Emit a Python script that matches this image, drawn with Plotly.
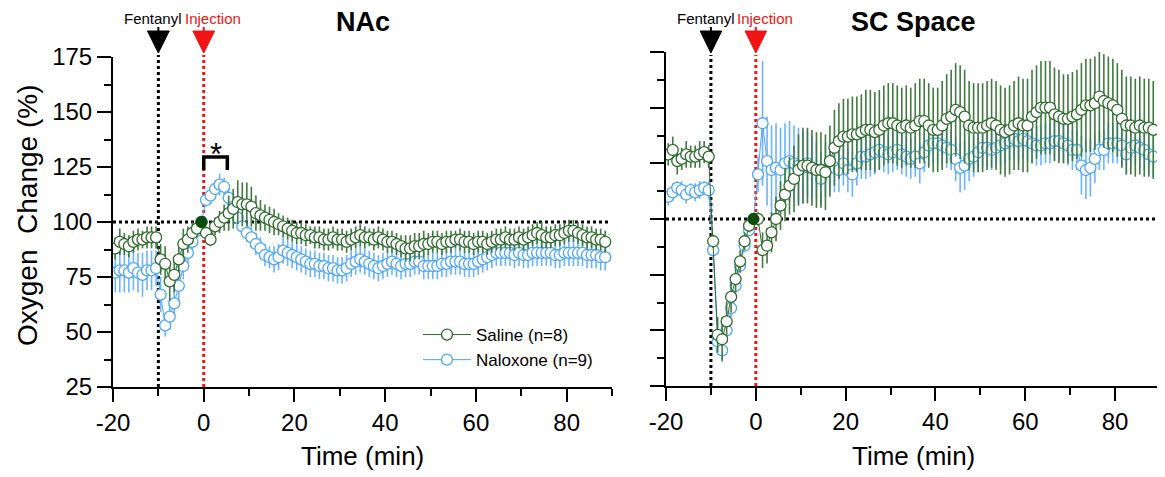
import plotly.graph_objects as go

W, H = 1165, 477
PAGE_PAD = 8  # browser body margin around the plot div

# one sample per minute, centred on the half minute
minutes = [m + 0.5 for m in range(-20, 89)]
FENTANYL_T = -10
INJECTION_T = 0
SIG_WINDOW = [0, 5.2]
x_ticks = [-20, 0, 20, 40, 60, 80]
x_ticktext = ['-20', '0', '20', '40', '60', '80']
y_ticks = [25, 50, 75, 100, 125, 150, 175]

# ---- NAc ----
nac_saline = [88, 91, 90, 89, 91, 92, 92, 93, 93, 93,
              83, 81, 73, 76, 83, 90, 92, 95, 97, 100,
              95, 92, 98, 100, 102, 104, 106, 109, 108, 108,
              107, 104, 103, 102, 101, 100, 99, 98, 97, 96,
              95, 95, 94, 94, 93, 93, 92, 92, 93, 92,
              92, 91, 92, 93, 94, 93, 93, 92, 93, 92,
              91, 91, 90, 89, 88, 88, 89, 89, 90, 90,
              91, 91, 90, 91, 91, 92, 92, 91, 91, 90,
              91, 91, 90, 91, 92, 92, 93, 92, 92, 93,
              92, 93, 94, 95, 94, 93, 93, 94, 94, 95,
              96, 96, 95, 94, 93, 93, 92, 92, 91]
nac_saline_sem = [5, 6, 5, 5, 5, 5, 4, 5, 5, 5,
                  7, 8, 9, 8, 8, 7, 6, 5, 4, 0,
                  3, 3, 4, 5, 6, 8, 9, 10, 10, 10,
                  9, 8, 7, 6, 6, 6, 5, 5, 5, 5,
                  5, 5, 5, 4, 5, 5, 5, 5, 5, 5,
                  5, 5, 5, 5, 5, 5, 4, 5, 5, 5,
                  5, 5, 5, 5, 6, 6, 6, 6, 6, 5,
                  5, 5, 5, 5, 5, 4, 5, 5, 5, 5,
                  5, 5, 5, 5, 5, 5, 5, 5, 5, 5,
                  5, 5, 5, 5, 6, 5, 5, 5, 5, 5,
                  5, 5, 5, 5, 5, 5, 5, 5, 5]
nac_naloxone = [77, 78, 78, 77, 79, 77, 76, 78, 78, 79,
                67, 53, 57, 63, 71, 80, 86, 91, 96, 100,
                110, 112, 115, 117, 116, 111, 107, 102, 98, 95,
                93, 90, 88, 85, 84, 83, 84, 87, 86, 85,
                84, 83, 82, 81, 81, 80, 80, 79, 79, 78,
                78, 79, 81, 82, 83, 82, 81, 80, 79, 80,
                81, 82, 81, 80, 81, 81, 82, 82, 80, 80,
                80, 80, 81, 81, 82, 82, 82, 81, 81, 81,
                82, 83, 84, 85, 86, 86, 86, 86, 85, 86,
                85, 85, 86, 86, 86, 86, 86, 85, 85, 86,
                86, 86, 86, 86, 85, 85, 85, 84, 84]
nac_naloxone_sem = [9, 10, 10, 9, 10, 9, 10, 9, 9, 8,
                    8, 5, 6, 7, 7, 6, 5, 4, 3, 0,
                    3, 4, 4, 5, 4, 4, 4, 4, 4, 4,
                    5, 5, 5, 5, 5, 6, 6, 6, 6, 6,
                    6, 6, 6, 6, 6, 6, 6, 6, 6, 6,
                    6, 6, 6, 6, 6, 6, 6, 6, 6, 6,
                    6, 6, 6, 6, 6, 6, 6, 6, 6, 6,
                    6, 6, 6, 6, 6, 6, 6, 6, 6, 6,
                    6, 6, 6, 6, 6, 6, 6, 6, 6, 6,
                    6, 6, 6, 6, 6, 6, 6, 6, 6, 6,
                    6, 6, 6, 6, 6, 6, 6, 6, 6]

# ---- SC Space ----
sc_saline = [129, 131, 126, 127, 129, 128, 128, 129, 130, 128,
             90, 48, 46, 54, 65, 73, 81, 90, 97, 100,
             100, 86, 88, 94, 100, 106, 111, 115, 118, 122,
             124, 124, 123, 122, 122, 121, 126, 132, 135, 137,
             137, 138, 138, 139, 140, 140, 139, 140, 142, 143,
             143, 142, 141, 142, 141, 142, 144, 144, 142, 140,
             140, 142, 145, 146, 149, 148, 146, 142, 141, 141,
             141, 142, 143, 142, 140, 139, 140, 142, 143, 142,
             142, 146, 148, 150, 150, 150, 147, 146, 145, 145,
             146, 147, 149, 151, 151, 152, 155, 153, 152, 151,
             149, 145, 142, 142, 141, 142, 141, 141, 140]
sc_saline_sem = [5, 6, 6, 5, 6, 5, 5, 6, 5, 5,
                 3, 8, 10, 9, 7, 6, 5, 4, 3, 0,
                 3, 8, 8, 9, 10, 11, 12, 13, 15, 16,
                 17, 17, 17, 17, 17, 17, 16, 17, 17, 17,
                 17, 17, 17, 17, 18, 18, 18, 18, 18, 18,
                 18, 18, 18, 18, 18, 19, 19, 19, 19, 19,
                 19, 20, 20, 21, 21, 21, 21, 20, 20, 20,
                 20, 20, 20, 20, 20, 20, 20, 20, 21, 21,
                 21, 21, 21, 21, 21, 21, 21, 21, 20, 20,
                 20, 20, 21, 21, 21, 21, 21, 21, 21, 21,
                 21, 22, 22, 22, 22, 22, 22, 22, 22]
sc_naloxone = [110, 112, 114, 113, 111, 113, 112, 113, 114, 113,
               86, 45, 41, 50, 60, 70, 79, 88, 95, 100,
               120, 143, 126, 122, 123, 122, 125, 126, 125, 124,
               123, 125, 123, 122, 118, 122, 124, 123, 122, 125,
               122, 120, 125, 128, 128, 129, 130, 131, 130, 129,
               130, 131, 129, 128, 127, 128, 125, 130, 133, 134,
               134, 133, 132, 131, 127, 123, 124, 127, 128, 130,
               132, 132, 131, 132, 133, 134, 135, 136, 135, 136,
               135, 134, 133, 133, 134, 134, 135, 135, 134, 133,
               131, 131, 124, 122, 123, 127, 131, 131, 134, 134,
               134, 133, 129, 132, 133, 132, 131, 129, 128]
sc_naloxone_sem = [4, 4, 3, 4, 4, 3, 4, 4, 3, 4,
                   3, 5, 4, 4, 4, 4, 3, 3, 2, 0,
                   8, 28, 20, 20, 20, 19, 18, 18, 17, 17,
                   16, 15, 14, 13, 12, 12, 11, 11, 10, 10,
                   10, 10, 10, 10, 10, 10, 10, 9, 9, 9,
                   9, 9, 9, 9, 9, 9, 9, 9, 9, 9,
                   9, 9, 9, 9, 10, 11, 11, 10, 9, 9,
                   9, 9, 9, 9, 9, 9, 9, 9, 9, 9,
                   9, 9, 9, 9, 9, 9, 9, 9, 9, 9,
                   9, 9, 13, 13, 13, 11, 9, 9, 9, 9,
                   9, 9, 9, 9, 9, 9, 9, 9, 9]

GREEN = '#2f6a2f'
GREEN_BAR = '#3f7a3f'
BLUE = '#4ea6f6'
BLUE_BAR = '#6ab4fb'
FILLED = '#0b4c0b'
RED = '#f01414'
FONT = 'Liberation Sans, Arial, sans-serif'


# screen pixel -> paper fraction
def px_x(p):
    return (p - PAGE_PAD) / W


def px_y(p):
    return 1 - (p - PAGE_PAD) / H


panels = [
    dict(xa='x', ya='y', title='NAc', sal=nac_saline, sal_e=nac_saline_sem,
         nal=nac_naloxone, nal_e=nac_naloxone_sem, legend=True,
         xpx=(113, 612), ypx=(57, 387)),
    dict(xa='x2', ya='y2', title='SC Space', sal=sc_saline, sal_e=sc_saline_sem,
         nal=sc_naloxone, nal_e=sc_naloxone_sem, legend=False,
         xpx=(666, 1160), ypx=(52, 386)),
]

fig = go.Figure()
shapes = []
annotations = []

for p in panels:
    fig.add_trace(go.Scatter(
        x=minutes, y=p['nal'], xaxis=p['xa'], yaxis=p['ya'],
        mode='lines+markers', name='Naloxone (n=9)', showlegend=p['legend'],
        legendrank=2,
        line=dict(color=BLUE, width=1),
        marker=dict(symbol='circle', size=11, color='white',
                    line=dict(color=BLUE, width=1.3)),
        error_y=dict(type='data', array=p['nal_e'], color=BLUE_BAR,
                     thickness=1.6, width=0),
    ))
    fig.add_trace(go.Scatter(
        x=minutes, y=p['sal'], xaxis=p['xa'], yaxis=p['ya'],
        mode='lines+markers', name='Saline (n=8)', showlegend=p['legend'],
        legendrank=1,
        line=dict(color=GREEN, width=1),
        marker=dict(symbol='circle', size=11, color='white',
                    line=dict(color=GREEN, width=1.3)),
        error_y=dict(type='data', array=p['sal_e'], color=GREEN_BAR,
                     thickness=1.6, width=0),
    ))
    # normalisation point (last sample before injection)
    i0 = minutes.index(INJECTION_T - 0.5)
    fig.add_trace(go.Scatter(
        x=[minutes[i0]], y=[p['sal'][i0]], xaxis=p['xa'], yaxis=p['ya'],
        mode='markers', showlegend=False,
        marker=dict(symbol='circle', size=11, color=FILLED,
                    line=dict(color=FILLED, width=1)),
    ))

    xr, yr = p['xa'], p['ya']
    top, bottom = p['ypx']
    xmid = px_x((p['xpx'][0] + p['xpx'][1]) / 2)
    # baseline
    shapes.append(dict(type='line', xref=xr, yref=yr, x0=-20, x1=89.5, y0=100, y1=100,
                       line=dict(color='black', width=3, dash='dot'), layer='below'))
    for t, col in [(FENTANYL_T, 'black'), (INJECTION_T, RED)]:
        shapes.append(dict(type='line', xref=xr, yref='paper', x0=t, x1=t,
                           y0=px_y(bottom), y1=px_y(55),
                           line=dict(color=col, width=3, dash='dot'), layer='below'))
        shapes.append(dict(type='path', xref=xr, yref='paper',
                           path='M %f,%f L %f,%f L %f,%f Z' % (
                               t - 2.4, px_y(31), t + 2.4, px_y(31), t, px_y(53)),
                           fillcolor=col, line=dict(color=col, width=1)))
        shapes.append(dict(type='line', xref=xr, yref='paper', x0=t, x1=t,
                           y0=px_y(27), y1=px_y(32), line=dict(color=col, width=2)))
    annotations += [
        dict(text='Fentanyl', x=FENTANYL_T - 1.1, y=px_y(19), xref=xr, yref='paper',
             xanchor='center', yanchor='middle', showarrow=False, borderpad=0,
             font=dict(size=15, color='black')),
        dict(text='Injection', x=INJECTION_T + 2.1, y=px_y(19), xref=xr, yref='paper',
             xanchor='center', yanchor='middle', showarrow=False, borderpad=0,
             font=dict(size=15, color=RED)),
        dict(text='<b>%s</b>' % p['title'], x=xmid, y=px_y(22), xref='paper', yref='paper',
             xanchor='center', yanchor='middle', showarrow=False, borderpad=0,
             font=dict(size=27, color='black')),
        dict(text='Time (min)', x=xmid, y=px_y(456), xref='paper', yref='paper',
             xanchor='center', yanchor='middle', showarrow=False,
             font=dict(size=26, color='black')),
    ]

# significance bracket over the Naloxone peak
shapes.append(dict(type='path', xref='x', yref='y',
                   path='M %f,123.6 L %f,129.6 L %f,129.6 L %f,123.6' % (
                       SIG_WINDOW[0], SIG_WINDOW[0], SIG_WINDOW[1], SIG_WINDOW[1]),
                   line=dict(color='black', width=3.5)))
annotations.append(dict(text='*', x=sum(SIG_WINDOW) / 2, y=px_y(154), xref='x', yref='paper',
                        xanchor='center', yanchor='middle', showarrow=False,
                        font=dict(size=31, color='black')))
annotations.append(dict(text='Oxygen\u00a0 Change (%)', x=px_x(27), y=px_y(216),
                        xref='paper', yref='paper', textangle=-90, showarrow=False,
                        xanchor='center', yanchor='middle',
                        font=dict(size=28, color='black')))

axis_common = dict(showgrid=False, zeroline=False, showline=True, linecolor='black',
                   linewidth=2, ticks='outside', tickcolor='black', tickwidth=2,
                   automargin=False, tickfont=dict(size=24, color='black'))
x_minor = dict(ticks='outside', tick0=-20, dtick=10, ticklen=7, tickwidth=2, tickcolor='black')
y_minor = dict(ticks='outside', tick0=25, dtick=12.5, ticklen=7, tickwidth=2, tickcolor='black')

L1, R1 = panels[0]['xpx']
L2, R2 = panels[1]['xpx']
T1, B1 = panels[0]['ypx']
T2, B2 = panels[1]['ypx']

fig.update_layout(
    width=W, height=H,
    margin=dict(l=0, r=0, t=0, b=0, autoexpand=False),
    plot_bgcolor='white', paper_bgcolor='white',
    font=dict(family=FONT, color='black'),
    xaxis=dict(domain=[px_x(L1), px_x(R1)], range=[-20, 90], anchor='y',
               tickvals=x_ticks, ticktext=x_ticktext, ticklen=13, minor=x_minor,
               **axis_common),
    yaxis=dict(domain=[px_y(B1), px_y(T1)], range=[25, 175], anchor='x',
               tickvals=y_ticks, ticklen=14, minor=y_minor, **axis_common),
    xaxis2=dict(domain=[px_x(L2), px_x(R2)], range=[-20, 90], anchor='y2',
                tickvals=x_ticks, ticktext=x_ticktext, ticklen=13, minor=x_minor,
                **axis_common),
    yaxis2=dict(domain=[px_y(B2), px_y(T2)], range=[25, 175], anchor='x2',
                tickvals=y_ticks, ticklen=14, showticklabels=False, minor=y_minor,
                **axis_common),
    legend=dict(x=px_x(418), y=px_y(317), xanchor='left', yanchor='top',
                font=dict(size=17, color='black'), bgcolor='rgba(0,0,0,0)',
                itemwidth=48, tracegroupgap=0),
    shapes=shapes,
    annotations=annotations,
)

fig.write_html("out.html")
